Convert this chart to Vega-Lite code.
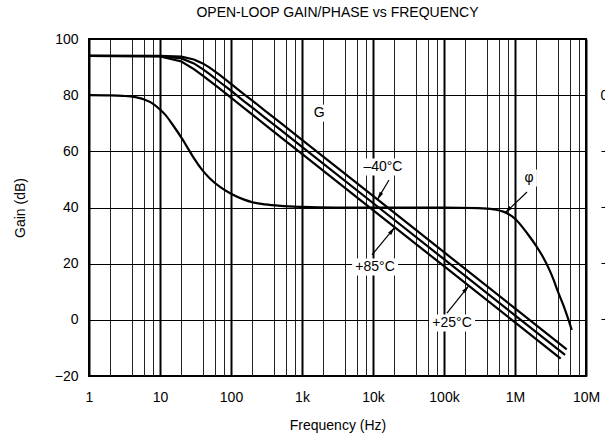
{
  "$schema": "https://vega.github.io/schema/vega-lite/v6.json",
  "autosize": {"type": "none"},
  "width": 497,
  "height": 337,
  "padding": {"left": 89, "top": 39, "right": 19, "bottom": 70},
  "background": "white",
  "config": {
    "font": "Liberation Sans",
    "view": {"stroke": "black", "strokeWidth": 2},
    "axis": {"labelFontSize": 14, "titleFontSize": 14, "titleFontWeight": "normal", "labelColor": "black", "titleColor": "black", "ticks": false, "domain": false}
  },
  "title": {"text": "OPEN-LOOP GAIN/PHASE vs FREQUENCY", "fontSize": 14, "fontWeight": "normal", "anchor": "middle", "frame": "group", "offset": 12, "color": "black"},
  "datasets": {
    "gain": [
      {"curve": "m40", "f": 1, "gain": 94},
      {"curve": "m40", "f": 10, "gain": 94.0},
      {"curve": "m40", "f": 20, "gain": 93.7},
      {"curve": "m40", "f": 30, "gain": 92.7},
      {"curve": "m40", "f": 40, "gain": 91.3},
      {"curve": "m40", "f": 50, "gain": 89.8},
      {"curve": "m40", "f": 70, "gain": 87.1},
      {"curve": "m40", "f": 100, "gain": 84.0},
      {"curve": "m40", "f": 150, "gain": 80.5},
      {"curve": "m40", "f": 200, "gain": 78.05},
      {"curve": "m40", "f": 300, "gain": 74.5},
      {"curve": "m40", "f": 500, "gain": 70.1},
      {"curve": "m40", "f": 1000, "gain": 64.1},
      {"curve": "m40", "f": 10000, "gain": 44.1},
      {"curve": "m40", "f": 100000, "gain": 24.1},
      {"curve": "m40", "f": 1000000, "gain": 4.1},
      {"curve": "m40", "f": 5350000, "gain": -10.5},
      {"curve": "p25", "f": 1, "gain": 94},
      {"curve": "p25", "f": 10, "gain": 93.9},
      {"curve": "p25", "f": 20, "gain": 93.1},
      {"curve": "p25", "f": 30, "gain": 91.3},
      {"curve": "p25", "f": 40, "gain": 89.3},
      {"curve": "p25", "f": 50, "gain": 87.5},
      {"curve": "p25", "f": 70, "gain": 84.6},
      {"curve": "p25", "f": 100, "gain": 81.6},
      {"curve": "p25", "f": 150, "gain": 78.0},
      {"curve": "p25", "f": 200, "gain": 75.6},
      {"curve": "p25", "f": 300, "gain": 72.0},
      {"curve": "p25", "f": 500, "gain": 67.6},
      {"curve": "p25", "f": 1000, "gain": 61.6},
      {"curve": "p25", "f": 10000, "gain": 41.6},
      {"curve": "p25", "f": 100000, "gain": 21.6},
      {"curve": "p25", "f": 1000000, "gain": 1.6},
      {"curve": "p25", "f": 5070000, "gain": -12.5},
      {"curve": "p85", "f": 1, "gain": 94},
      {"curve": "p85", "f": 10, "gain": 93.8},
      {"curve": "p85", "f": 20, "gain": 92.0},
      {"curve": "p85", "f": 30, "gain": 89.3},
      {"curve": "p85", "f": 40, "gain": 87.0},
      {"curve": "p85", "f": 50, "gain": 85.1},
      {"curve": "p85", "f": 70, "gain": 82.2},
      {"curve": "p85", "f": 100, "gain": 79.1},
      {"curve": "p85", "f": 150, "gain": 75.6},
      {"curve": "p85", "f": 200, "gain": 73.1},
      {"curve": "p85", "f": 300, "gain": 69.5},
      {"curve": "p85", "f": 500, "gain": 65.1},
      {"curve": "p85", "f": 1000, "gain": 59.1},
      {"curve": "p85", "f": 10000, "gain": 39.1},
      {"curve": "p85", "f": 100000, "gain": 19.1},
      {"curve": "p85", "f": 1000000, "gain": -0.9},
      {"curve": "p85", "f": 4400000, "gain": -13.8}
    ],
    "phase": [
      {"f": 1, "phase": 0},
      {"f": 2, "phase": -0.2},
      {"f": 3, "phase": -0.6},
      {"f": 4, "phase": -1.2},
      {"f": 5, "phase": -2.2},
      {"f": 6, "phase": -3.5},
      {"f": 8, "phase": -7},
      {"f": 10, "phase": -11.5},
      {"f": 12, "phase": -16},
      {"f": 15, "phase": -23.5},
      {"f": 20, "phase": -34},
      {"f": 25, "phase": -43},
      {"f": 30, "phase": -50.5},
      {"f": 40, "phase": -60.5},
      {"f": 50, "phase": -66.5},
      {"f": 70, "phase": -73.5},
      {"f": 100, "phase": -79},
      {"f": 150, "phase": -83.5},
      {"f": 200, "phase": -85.8},
      {"f": 300, "phase": -87.5},
      {"f": 500, "phase": -88.7},
      {"f": 1000, "phase": -89.5},
      {"f": 3000, "phase": -90},
      {"f": 100000, "phase": -90},
      {"f": 300000, "phase": -90.5},
      {"f": 500000, "phase": -91.5},
      {"f": 700000, "phase": -93.5},
      {"f": 1000000, "phase": -99},
      {"f": 1500000, "phase": -111},
      {"f": 2000000, "phase": -121},
      {"f": 2500000, "phase": -130},
      {"f": 3000000, "phase": -139},
      {"f": 3500000, "phase": -148},
      {"f": 4000000, "phase": -157},
      {"f": 5000000, "phase": -171},
      {"f": 6300000, "phase": -188}
    ],
    "arrows": [
      {"name": "m40", "f1": 16800, "g1": 49.8, "f2": 11500, "g2": 42.8},
      {"name": "p85", "f1": 9680, "g1": 23.1, "f2": 20200, "g2": 32.9},
      {"name": "p25", "f1": 110000, "g1": 2.4, "f2": 223000, "g2": 12.1},
      {"name": "phi", "f1": 1476000, "g1": 45.5, "f2": 723000, "g2": 38.0}
    ],
    "labelsWide": [
      {"label": "–40°C", "f": 13800, "g": 54.4},
      {"label": "+85°C", "f": 10700, "g": 18.8},
      {"label": "+25°C", "f": 130000, "g": -1.1}
    ],
    "labelsNarrow": [
      {"label": "G", "f": 1740, "g": 73.6},
      {"label": "φ", "f": 1570000, "g": 50.5}
    ]
  },
  "layer": [
    {
      "data": {"name": "gain"},
      "mark": {"type": "line", "color": "black", "strokeWidth": 2.2},
      "encoding": {
        "x": {
          "field": "f", "type": "quantitative",
          "scale": {"type": "log", "domain": [1, 10000000]},
          "axis": {
            "title": "Frequency (Hz)",
            "values": [1,2,4,6,8,10,20,40,60,80,100,200,400,600,800,1000,2000,4000,6000,8000,10000,20000,40000,60000,80000,100000,200000,400000,600000,800000,1000000,2000000,4000000,6000000,8000000,10000000],
            "labelExpr": "indexof([1,10,100,1000,10000,100000,1000000,10000000], datum.value) >= 0 ? format(datum.value, '~s') : ''",
            "labelFlush": false,
            "labelOverlap": false,
            "labelPadding": 14,
            "titlePadding": 14,
            "grid": true,
            "gridColor": {"condition": {"test": "indexof([1,10,100,1000,10000,100000,1000000,10000000], datum.value) >= 0", "value": "black"}, "value": "#222222"},
            "gridOpacity": 1,
            "gridWidth": {"condition": {"test": "indexof([1,10,100,1000,10000,100000,1000000,10000000], datum.value) >= 0", "value": 2}, "value": 1}
          }
        },
        "y": {
          "field": "gain", "type": "quantitative",
          "scale": {"domain": [-20, 100], "nice": false, "zero": false},
          "axis": {
            "title": "Gain (dB)",
            "values": [-20, 0, 20, 40, 60, 80, 100],
            "labelExpr": "replace(format(datum.value, 'd'), '-', '–')",
            "labelPadding": 11,
            "titlePadding": 27,
            "grid": true,
            "gridColor": "black",
            "gridOpacity": 1,
            "gridWidth": 1
          }
        },
        "detail": {"field": "curve", "type": "nominal"}
      }
    },
    {
      "data": {"name": "phase"},
      "mark": {"type": "line", "color": "black", "strokeWidth": 2.2, "interpolate": "monotone"},
      "encoding": {
        "x": {"field": "f", "type": "quantitative", "scale": {"type": "log", "domain": [1, 10000000]}},
        "y": {
          "field": "phase", "type": "quantitative",
          "scale": {"domain": [-225, 45], "nice": false, "zero": false},
          "axis": {
            "orient": "right",
            "title": "Phase (degrees)",
            "values": [0, -45, -90, -135, -180],
            "labelExpr": "replace(format(datum.value, 'd'), '-', '–')",
            "labelPadding": 14,
            "grid": false
          }
        }
      }
    },
    {
      "data": {"name": "labelsWide"},
      "mark": {"type": "point", "shape": "M-2.3,-0.85H2.3V0.85H-2.3Z", "filled": true, "color": "white", "opacity": 1, "size": 400},
      "encoding": {
        "x": {"field": "f", "type": "quantitative", "scale": {"type": "log", "domain": [1, 10000000]}},
        "y": {"field": "g", "type": "quantitative", "scale": {"domain": [-20, 100], "nice": false, "zero": false}, "axis": null}
      }
    },
    {
      "data": {"name": "labelsNarrow"},
      "mark": {"type": "point", "shape": "M-0.8,-0.85H0.8V0.85H-0.8Z", "filled": true, "color": "white", "opacity": 1, "size": 400},
      "encoding": {
        "x": {"field": "f", "type": "quantitative", "scale": {"type": "log", "domain": [1, 10000000]}},
        "y": {"field": "g", "type": "quantitative", "scale": {"domain": [-20, 100], "nice": false, "zero": false}, "axis": null}
      }
    },
    {
      "data": {"name": "arrows"},
      "mark": {"type": "rule", "color": "black", "strokeWidth": 1.2},
      "encoding": {
        "x": {"field": "f1", "type": "quantitative", "scale": {"type": "log", "domain": [1, 10000000]}},
        "y": {"field": "g1", "type": "quantitative", "scale": {"domain": [-20, 100], "nice": false, "zero": false}, "axis": null},
        "x2": {"field": "f2"},
        "y2": {"field": "g2"}
      }
    },
    {
      "data": {"name": "arrows"},
      "transform": [{"filter": "datum.name == 'm40'"}],
      "mark": {"type": "point", "shape": "M0,0L0.4,1.6L-0.4,1.6Z", "filled": true, "color": "black", "opacity": 1, "size": 100, "angle": 211},
      "encoding": {
        "x": {"field": "f2", "type": "quantitative", "scale": {"type": "log", "domain": [1, 10000000]}},
        "y": {"field": "g2", "type": "quantitative", "scale": {"domain": [-20, 100], "nice": false, "zero": false}, "axis": null}
      }
    },
    {
      "data": {"name": "arrows"},
      "transform": [{"filter": "datum.name == 'p85'"}],
      "mark": {"type": "point", "shape": "M0,0L0.4,1.6L-0.4,1.6Z", "filled": true, "color": "black", "opacity": 1, "size": 100, "angle": 39},
      "encoding": {
        "x": {"field": "f2", "type": "quantitative", "scale": {"type": "log", "domain": [1, 10000000]}},
        "y": {"field": "g2", "type": "quantitative", "scale": {"domain": [-20, 100], "nice": false, "zero": false}, "axis": null}
      }
    },
    {
      "data": {"name": "arrows"},
      "transform": [{"filter": "datum.name == 'p25'"}],
      "mark": {"type": "point", "shape": "M0,0L0.4,1.6L-0.4,1.6Z", "filled": true, "color": "black", "opacity": 1, "size": 100, "angle": 39},
      "encoding": {
        "x": {"field": "f2", "type": "quantitative", "scale": {"type": "log", "domain": [1, 10000000]}},
        "y": {"field": "g2", "type": "quantitative", "scale": {"domain": [-20, 100], "nice": false, "zero": false}, "axis": null}
      }
    },
    {
      "data": {"name": "arrows"},
      "transform": [{"filter": "datum.name == 'phi'"}],
      "mark": {"type": "point", "shape": "M0,0L0.4,1.6L-0.4,1.6Z", "filled": true, "color": "black", "opacity": 1, "size": 100, "angle": 225},
      "encoding": {
        "x": {"field": "f2", "type": "quantitative", "scale": {"type": "log", "domain": [1, 10000000]}},
        "y": {"field": "g2", "type": "quantitative", "scale": {"domain": [-20, 100], "nice": false, "zero": false}, "axis": null}
      }
    },
    {
      "data": {"name": "labelsWide"},
      "mark": {"type": "text", "fontSize": 14, "color": "black", "align": "center", "baseline": "middle"},
      "encoding": {
        "x": {"field": "f", "type": "quantitative", "scale": {"type": "log", "domain": [1, 10000000]}},
        "y": {"field": "g", "type": "quantitative", "scale": {"domain": [-20, 100], "nice": false, "zero": false}, "axis": null},
        "text": {"field": "label"}
      }
    },
    {
      "data": {"name": "labelsNarrow"},
      "mark": {"type": "text", "fontSize": 14, "color": "black", "align": "center", "baseline": "middle"},
      "encoding": {
        "x": {"field": "f", "type": "quantitative", "scale": {"type": "log", "domain": [1, 10000000]}},
        "y": {"field": "g", "type": "quantitative", "scale": {"domain": [-20, 100], "nice": false, "zero": false}, "axis": null},
        "text": {"field": "label"}
      }
    }
  ],
  "resolve": {"scale": {"y": "independent"}}
}
